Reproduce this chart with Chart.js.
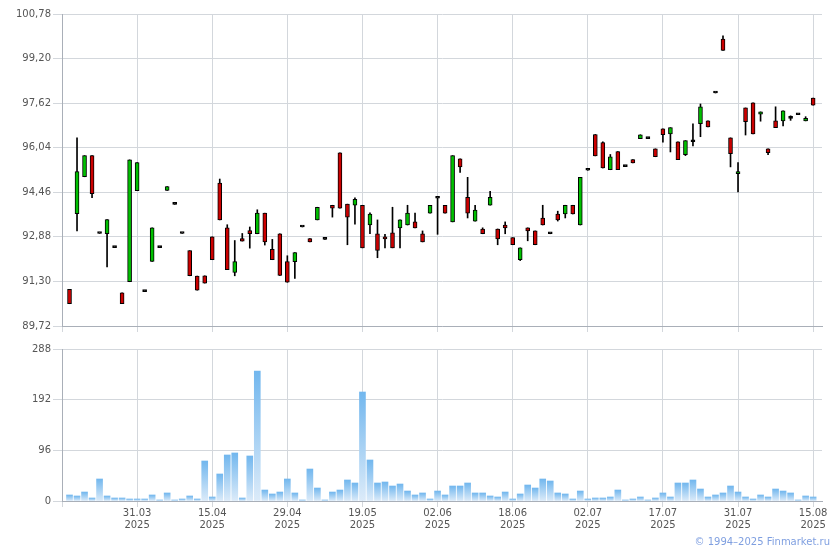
<!DOCTYPE html>
<html>
<head>
<meta charset="utf-8">
<script src="https://cdn.jsdelivr.net/npm/chart.js@4.4.1/dist/chart.umd.min.js"></script>
<style>
  body { margin: 0; background: #fff; }
  #wrap { position: relative; width: 840px; height: 550px; background: #fff; }
  #price { position: absolute; left: 0; top: 0; }
  #volume { position: absolute; left: 0; top: 340px; }
  #copy { position: absolute; right: 10px; top: 536px; font: 10px "DejaVu Sans", sans-serif; color: #7f9fe0; }
</style>
</head>
<body>
<div id="wrap">
  <canvas id="price" width="840" height="340"></canvas>
  <canvas id="volume" width="840" height="210"></canvas>
  <div id="copy">© 1994–2025 Finmarket.ru</div>
</div>
<script>
// daily candles, one per trading day (index 0..99)
var open  = [91.02,93.70,95.01,95.76,93.00,92.99,92.50,90.90,91.29,94.52,
             90.94,92.01,92.50,94.53,94.03,93.00,92.39,91.49,91.50,92.88,
             94.79,93.20,91.62,92.82,93.10,92.99,93.72,92.44,92.99,92.00,
             92.00,93.23,92.82,93.48,92.79,94.00,95.86,94.04,94.00,94.00,
             93.30,92.99,92.88,93.02,93.20,93.30,93.41,92.99,93.72,94.25,
             94.00,93.41,95.65,94.28,93.44,93.16,94.00,93.16,93.30,92.85,
             92.07,93.20,93.09,93.55,92.99,93.69,93.69,94.00,93.30,95.24,
             96.51,96.22,95.26,95.90,95.37,95.62,96.36,96.36,96.00,96.71,
             96.53,96.25,95.79,96.25,96.89,96.99,97.98,99.89,96.39,95.12,
             97.45,97.63,97.23,96.00,96.99,96.99,97.08,97.21,96.99,97.80];
var high  = [91.02,96.39,95.76,95.76,93.00,93.49,92.50,90.90,95.61,95.51,
             90.94,93.20,92.50,94.66,94.03,93.00,92.39,91.49,91.50,92.88,
             94.93,93.31,92.75,93.00,93.23,93.84,93.72,92.79,92.99,92.21,
             92.32,93.23,92.82,93.93,92.79,94.00,95.86,94.04,94.26,94.00,
             93.73,93.48,92.97,93.93,93.48,94.00,93.72,93.09,94.00,94.25,
             94.00,95.76,95.65,94.99,94.00,93.20,94.49,93.16,93.41,92.85,
             92.49,93.20,93.09,94.00,92.99,93.79,94.00,94.00,94.99,95.24,
             96.51,96.25,95.80,95.90,95.37,95.62,96.50,96.36,96.00,96.71,
             96.75,96.25,96.29,96.89,97.59,96.99,97.98,100.01,96.39,95.51,
             97.45,97.63,97.31,96.00,97.49,97.35,97.17,97.21,97.14,97.80];
var low   = [90.51,93.09,95.01,94.27,93.00,91.81,92.50,90.51,91.29,94.52,
             90.94,92.01,92.50,94.53,94.03,93.00,91.50,90.99,91.24,92.07,
             93.48,91.72,91.50,92.73,92.48,92.99,92.59,92.07,91.51,91.27,
             91.41,93.23,92.70,93.48,92.79,93.58,93.90,92.60,93.33,92.49,
             92.99,92.14,92.49,92.49,92.49,93.30,93.20,92.70,93.72,92.97,
             93.72,93.41,95.16,93.55,93.44,92.99,94.00,92.60,92.99,92.60,
             92.04,92.74,92.60,93.30,92.99,93.44,93.55,93.69,93.30,95.24,
             95.75,95.32,95.26,95.26,95.37,95.50,96.36,96.36,95.72,96.24,
             95.89,95.62,95.76,96.10,96.43,96.78,97.98,99.49,95.36,94.47,
             96.49,96.53,96.98,95.79,96.75,96.81,97.01,97.21,96.99,97.55];
var close = [90.51,95.19,95.76,94.41,93.00,93.49,92.50,90.51,95.61,95.51,
             90.94,93.20,92.50,94.66,94.03,93.00,91.50,90.99,91.24,92.07,
             93.48,91.72,92.00,92.73,92.99,93.72,92.70,92.07,91.51,91.27,
             92.32,93.23,92.70,93.93,92.79,93.90,93.90,93.58,94.21,92.49,
             93.69,92.40,92.81,92.49,93.48,93.72,93.20,92.70,94.00,94.25,
             93.72,95.76,95.36,93.72,93.83,92.99,94.28,92.81,93.20,92.60,
             92.49,93.09,92.60,93.30,92.99,93.48,94.00,93.69,94.99,95.24,
             95.75,95.32,95.72,95.26,95.37,95.50,96.50,96.36,95.72,96.50,
             96.75,95.62,96.29,96.25,97.49,96.78,97.98,99.49,95.83,95.19,
             96.96,96.53,97.31,95.86,96.75,97.35,97.08,97.21,97.08,97.55];
var volume = [11.4,9.5,17,5.7,41.7,9.5,5.7,5.7,3.8,3.8,
              3.8,11.4,1.9,15.2,1.9,3.8,9.5,3.8,75.8,7.6,
              51.2,87.2,91,5.7,85.3,246,20.8,13.3,17,41.7,
              15.2,1.9,60.6,24.6,1.9,17,20.8,39.8,34.1,206.5,
              77.7,34.1,36,28.4,32.2,18.9,11.4,15.2,3.8,18.9,
              11.4,28.4,28.4,34.1,15.2,15.2,9.5,7.6,17,3.8,
              13.3,30.3,24.6,41.7,37.9,15.2,13.3,3.8,18.9,3.8,
              5.7,5.7,7.6,20.8,1.9,3.8,7.6,1.9,5.7,15.2,
              7.6,34.1,34.1,39.8,22.7,7.6,11.4,15.2,28.4,17,
              7.6,3.8,11.4,7.6,22.7,18.9,15.2,1.9,9.5,7.6];

var tickIndex = [9, 19, 29, 39, 49, 59, 69, 79, 89, 99];
var tickDates = ['31.03','15.04','29.04','19.05','02.06','18.06','02.07','17.07','31.07','15.08'];
var tickYears = ['2025','2025','2025','2025','2025','2025','2025','2025','2025','2025'];
var priceTicks = [89.72, 91.30, 92.88, 94.46, 96.04, 97.62, 99.20, 100.78];
var volumeTicks = [0, 96, 192, 288];

var gridColor = '#d3d7dc';
var axisColor = '#a9afb8';
var labelFont = { family: 'DejaVu Sans', size: 10 };
var labelColor = '#555';
var xMin = -1, xMax = 100.18;

var wicks = [], bodies = [], bodyColors = [], volBars = [];
for (var i = 0; i < open.length; i++) {
  wicks.push({ x: i, y: [low[i], high[i]] });
  bodies.push({ x: i, y: [Math.min(open[i], close[i]), Math.max(open[i], close[i])] });
  bodyColors.push(close[i] > open[i] ? '#00c000' : (close[i] < open[i] ? '#cc0000' : '#000'));
  volBars.push({ x: i, y: volume[i] });
}

function xTicks(scale) {
  scale.ticks = [xMin].concat(tickIndex).map(function (v) { return { value: v }; });
}

new Chart(document.getElementById('price'), {
  type: 'bar',
  data: {
    datasets: [
      { data: bodies, backgroundColor: bodyColors, borderColor: '#000', borderWidth: 1,
        borderSkipped: false, barThickness: 4, minBarLength: 2, grouped: false, order: 0 },
      { data: wicks, backgroundColor: '#000', borderWidth: 0, barThickness: 1,
        grouped: false, order: 1 }
    ]
  },
  options: {
    responsive: false,
    animation: false,
    layout: { padding: { top: 14, right: 18, left: 0, bottom: 0 } },
    plugins: { legend: { display: false }, tooltip: { enabled: false } },
    scales: {
      x: {
        type: 'linear', min: xMin, max: xMax, offset: false,
        afterBuildTicks: xTicks,
        ticks: { display: false },
        grid: { color: gridColor, tickLength: 6, offset: false },
        border: { color: axisColor },
        afterFit: function (s) { s.height = 14; }
      },
      y: {
        min: priceTicks[0], max: priceTicks[priceTicks.length - 1],
        afterBuildTicks: function (s) { s.ticks = priceTicks.map(function (v) { return { value: v }; }); },
        ticks: { font: labelFont, color: labelColor, padding: 2,
                 callback: function (v) { return v.toFixed(2).replace('.', ','); } },
        grid: { color: gridColor, tickLength: 9 },
        border: { color: axisColor },
        afterFit: function (s) { s.width = 62; }
      }
    }
  }
});

new Chart(document.getElementById('volume'), {
  type: 'bar',
  data: {
    datasets: [{
      data: volBars, barThickness: 6, borderWidth: 0,
      backgroundColor: function (ctx) {
        var chart = ctx.chart, ys = chart.scales.y;
        if (!ys || !ctx.raw) return '#9ccbf2';
        var top = ys.getPixelForValue(ctx.raw.y), base = ys.getPixelForValue(0);
        if (!isFinite(top) || base - top < 1) return '#9ccbf2';
        var g = chart.ctx.createLinearGradient(0, top, 0, base);
        g.addColorStop(0, '#72b7ee');
        g.addColorStop(1, '#dcebf9');
        return g;
      }
    }]
  },
  options: {
    responsive: false,
    animation: false,
    layout: { padding: { top: 9, right: 18, left: 0, bottom: 0 } },
    plugins: { legend: { display: false }, tooltip: { enabled: false } },
    scales: {
      x: {
        type: 'linear', min: xMin, max: xMax, offset: false,
        afterBuildTicks: xTicks,
        ticks: {
          font: { family: 'DejaVu Sans', size: 10, lineHeight: 1.17 }, color: labelColor, padding: 1,
          maxRotation: 0, autoSkip: false,
          callback: function (v) {
            var k = tickIndex.indexOf(v);
            return k < 0 ? '' : [tickDates[k], tickYears[k]];
          }
        },
        grid: { color: gridColor, tickLength: 6, offset: false },
        border: { color: axisColor },
        afterFit: function (s) { s.height = 49; }
      },
      y: {
        min: 0, max: volumeTicks[volumeTicks.length - 1],
        afterBuildTicks: function (s) { s.ticks = volumeTicks.map(function (v) { return { value: v }; }); },
        ticks: { font: labelFont, color: labelColor, padding: 2 },
        grid: { color: gridColor, tickLength: 9 },
        border: { color: axisColor },
        afterFit: function (s) { s.width = 62; }
      }
    }
  }
});
</script>
</body>
</html>
